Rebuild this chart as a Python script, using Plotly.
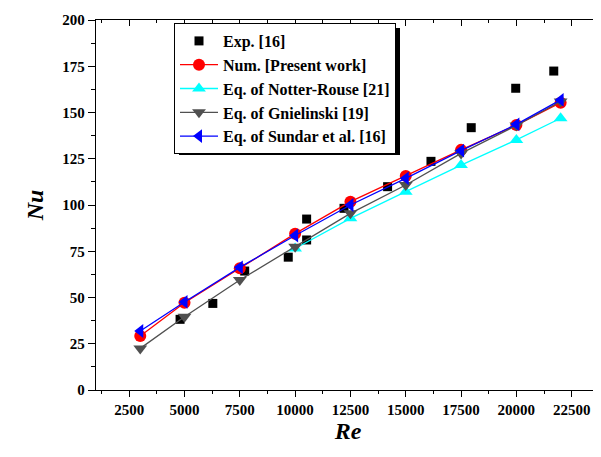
import plotly.graph_objects as go

# ---------------- data ----------------
re_exp = [4800, 6280, 7720, 9690, 10520, 10520, 12210, 14180, 16140, 17960, 19970, 21690]
nu_exp = [38.2, 46.8, 64.3, 71.8, 81.1, 92.4, 98.2, 109.9, 123.6, 141.8, 163.1, 172.4]

re_num = [3000, 5000, 7500, 10000, 12500, 15000, 17500, 20000, 22000]
nu_num = [29.2, 47.2, 65.8, 84.5, 101.8, 115.7, 129.8, 143.2, 155.3]

re_nr = [10000, 12500, 15000, 17500, 20000, 22000]
nu_nr = [76.5, 92.8, 107.2, 121.6, 135.2, 146.9]

re_gn = [3000, 5000, 7500, 10000, 12500, 15000, 17500, 20000, 22000]
nu_gn = [22.5, 39.6, 59.5, 77.5, 95.5, 110.8, 127.9, 143.0, 156.0]

re_su = [3000, 5000, 7500, 10000, 12500, 15000, 17500, 20000, 22000]
nu_su = [31.9, 47.6, 66.3, 83.5, 100.0, 114.4, 129.4, 143.6, 156.8]

names = ["Exp. [16]", "Num. [Present work]", "Eq. of Notter-Rouse [21]",
         "Eq. of Gnielinski [19]", "Eq. of Sundar et al. [16]"]

x_tick_vals = [2500, 5000, 7500, 10000, 12500, 15000, 17500, 20000, 22500]
x_tick_labels = ["2500", "5000", "7500", "10000", "12500", "15000", "17500", "20000", "22500"]
y_tick_vals = [0, 25, 50, 75, 100, 125, 150, 175, 200]
y_tick_labels = ["0", "25", "50", "75", "100", "125", "150", "175", "200"]

x_range = [1000, 23780]
y_range = [0, 200]

FONT = "Liberation Serif, Times New Roman, serif"

fig = go.Figure()
fig.add_trace(go.Scatter(x=re_exp, y=nu_exp, mode="markers", name=names[0],
                         marker=dict(symbol="square", size=9, color="black")))
fig.add_trace(go.Scatter(x=re_num, y=nu_num, mode="lines+markers", name=names[1],
                         line=dict(color="#FF0000", width=1.3),
                         marker=dict(symbol="circle", size=12, color="#FF0000")))
fig.add_trace(go.Scatter(x=re_nr, y=nu_nr, mode="lines+markers", name=names[2],
                         line=dict(color="#00FFFF", width=1.3),
                         marker=dict(symbol="triangle-up", size=12, color="#00FFFF")))
fig.add_trace(go.Scatter(x=re_gn, y=nu_gn, mode="lines+markers", name=names[3],
                         line=dict(color="#505050", width=1.3),
                         marker=dict(symbol="triangle-down", size=12, color="#505050")))
fig.add_trace(go.Scatter(x=re_su, y=nu_su, mode="lines+markers", name=names[4],
                         line=dict(color="#0000FF", width=1.3),
                         marker=dict(symbol="triangle-left", size=12, color="#0000FF")))
# helper trace for mirrored (top/right) axes
fig.add_trace(go.Scatter(x=[None], y=[None], xaxis="x2", yaxis="y2",
                         showlegend=False, hoverinfo="skip"))

# The page body adds an 8 px offset; the figure is sized so the plot lands
# at screen pixels x 96..600, y 20..390.
OFF = 8
W, H = 601 - OFF, 457 - OFF
L, R, T, B = 96 - OFF, 1, 20 - OFF, 67
pw, ph = W - L - R, H - T - B

def px2paper(x, y):
    # screen pixel -> paper coordinate
    return (x - OFF - L) / pw, (H - B - (y - OFF)) / ph

# legend shadow (offset black box)
sx0, sy1 = px2paper(179, 28)
sx1, sy0 = px2paper(400, 155)
fig.add_shape(type="rect", xref="paper", yref="paper", x0=sx0, x1=sx1, y0=sy0, y1=sy1,
              fillcolor="black", line=dict(width=0), layer="above")

lx, ly = px2paper(174, 23)

tickfont = dict(family=FONT, size=15, color="black", weight="bold")
axis_common = dict(showline=True, linecolor="black", linewidth=1.3, showgrid=False,
                   zeroline=False, tickcolor="black", tickwidth=1.3)

fig.update_layout(
    width=W, height=H,
    margin=dict(l=L, r=R, t=T, b=B),
    paper_bgcolor="white", plot_bgcolor="white",
    font=dict(family=FONT, color="black"),
    showlegend=True,
    legend=dict(x=lx, y=ly, xanchor="left", yanchor="top",
                bgcolor="white", bordercolor="black", borderwidth=1,
                font=dict(family=FONT, size=16, color="black", weight="bold"),
                itemwidth=38, tracegroupgap=0),
    xaxis=dict(range=x_range, tickmode="array", tickvals=x_tick_vals,
               ticktext=["<b>%s</b>" % t for t in x_tick_labels],
               ticks="outside", ticklen=6, tickfont=tickfont,
               minor=dict(dtick=1250, tick0=0, ticks="outside", ticklen=3,
                          tickcolor="black", tickwidth=1.3),
               title=dict(text="Re", font=dict(family=FONT, size=24, color="black",
                                                 weight="bold", style="italic"), standoff=4),
               **axis_common),
    yaxis=dict(range=y_range, tickmode="array", tickvals=y_tick_vals,
               ticktext=["<b>%s</b>" % t for t in y_tick_labels],
               ticks="outside", ticklen=7, tickfont=tickfont,
               minor=dict(dtick=12.5, tick0=0, ticks="outside", ticklen=4,
                          tickcolor="black", tickwidth=1.3),
               title=dict(text="Nu", font=dict(family=FONT, size=24, color="black",
                                                 weight="bold", style="italic"), standoff=11),
               **axis_common),
    xaxis2=dict(range=x_range, overlaying="x", side="top", anchor="y2", tick0=0, dtick=2500,
                ticks="inside", ticklen=6, showticklabels=False,
                minor=dict(dtick=1250, ticks="inside", ticklen=3, tickcolor="black", tickwidth=1.3),
                **axis_common),
    yaxis2=dict(range=y_range, overlaying="y", side="right", anchor="x2", tick0=0, dtick=25,
                ticks="inside", ticklen=6, showticklabels=False,
                minor=dict(dtick=12.5, ticks="inside", ticklen=3, tickcolor="black", tickwidth=1.3),
                **axis_common),
)

fig.write_html("out.html")
